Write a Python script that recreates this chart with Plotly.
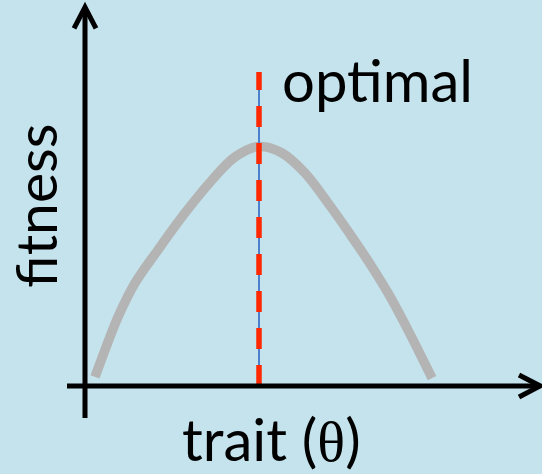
import plotly.graph_objects as go

# ---- data (trait in arbitrary units, fitness relative) ----
trait = [0.25, 0.5, 0.825, 1.25, 1.825, 2.5, 3.175, 3.75, 4.35,
         4.925, 5.5, 6.075, 6.675, 7.175, 7.575, 8.075, 8.675]
fitness = [0.0375, 0.15, 0.2875, 0.429, 0.567, 0.721, 0.858, 0.954, 0.998,
           0.971, 0.8875, 0.7625, 0.621, 0.496, 0.3875, 0.233, 0.033]
optimum_trait = 4.35
optimal_line_top = 1.308

x_range = [-2.125, 11.425]
y_range = [-0.3667, 1.6083]

BG = "#c4e3ec"
FONT = "Lato"

fig = go.Figure()

# axes with arrows (decorations)
ax_col = "black"
shapes = [
    dict(type="line", xref="x", yref="y", x0=-0.45, y0=0, x1=11.38, y1=0,
         line=dict(color=ax_col, width=5)),
    dict(type="path", xref="x", yref="y",
         path="M 10.85,0.046 L 11.38,0 L 10.85,-0.046",
         line=dict(color=ax_col, width=5)),
    dict(type="line", xref="x", yref="y", x0=0, y0=-0.133, x1=0, y1=1.575,
         line=dict(color=ax_col, width=5)),
    dict(type="path", xref="x", yref="y",
         path="M -0.275,1.49 L 0,1.578 L 0.275,1.49",
         line=dict(color=ax_col, width=5)),
]

# fitness curve
fig.add_trace(go.Scatter(x=trait, y=fitness, mode="lines",
                         line=dict(color="#b4b4b4", width=9.5, shape="spline"),
                         hoverinfo="skip", showlegend=False))
# thin blue line under the optimum
fig.add_trace(go.Scatter(x=[optimum_trait, optimum_trait], y=[0, optimal_line_top],
                         mode="lines", line=dict(color="#4a80cc", width=2),
                         hoverinfo="skip", showlegend=False))
# red dashed optimum
fig.add_trace(go.Scatter(x=[optimum_trait, optimum_trait], y=[0, optimal_line_top],
                         mode="lines", line=dict(color="#ff2800", width=5.5, dash="21px,16px"),
                         hoverinfo="skip", showlegend=False))

annotations = [
    dict(x=7.3, y=1.275, xref="x", yref="y", text="optimal", showarrow=False,
         font=dict(family=FONT, size=58, color="black"), xanchor="center", yanchor="middle"),
    dict(x=-1.25, y=0.75, xref="x", yref="y", text="fitness", showarrow=False, textangle=-90,
         font=dict(family=FONT, size=57, color="black"), xanchor="center", yanchor="middle"),
    dict(x=4.65, y=-0.222, xref="x", yref="y",
         text="trait (<span style='font-family:Liberation Serif'>θ</span>)", showarrow=False,
         font=dict(family=FONT, size=58, color="black"), xanchor="center", yanchor="middle"),
]

fig.update_layout(
    width=542, height=474,
    margin=dict(l=0, r=0, t=0, b=0),
    paper_bgcolor=BG, plot_bgcolor=BG,
    xaxis=dict(range=x_range, visible=False, fixedrange=True),
    yaxis=dict(range=y_range, visible=False, fixedrange=True),
    shapes=shapes, annotations=annotations, showlegend=False,
)

fig.write_html("out.html", config={"displayModeBar": False},
               post_script="document.body.style.margin='0';document.body.style.overflow='hidden';")
